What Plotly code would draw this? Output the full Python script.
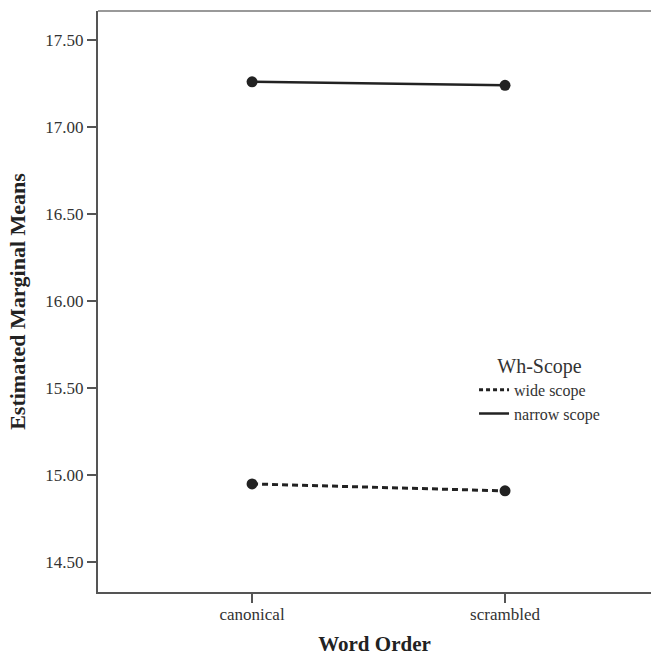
import plotly.graph_objects as go

categories = ["canonical", "scrambled"]
wide_scope = [14.95, 14.91]
narrow_scope = [17.26, 17.24]
y_ticks = [14.5, 15.0, 15.5, 16.0, 16.5, 17.0, 17.5]
y_tick_labels = ["14.50", "15.00", "15.50", "16.00", "16.50", "17.00", "17.50"]
series_names = ["wide scope", "narrow scope"]

FONT = "Liberation Serif, Times New Roman, serif"
LINE_COLOR = "#222222"

fig = go.Figure()
x_idx = list(range(len(categories)))

# data traces (no legend)
fig.add_trace(go.Scatter(x=x_idx, y=wide_scope, mode="lines+markers", showlegend=False,
                         line=dict(color=LINE_COLOR, width=3, dash="6px,4px"),
                         marker=dict(color=LINE_COLOR, size=11)))
fig.add_trace(go.Scatter(x=x_idx, y=narrow_scope, mode="lines+markers", showlegend=False,
                         line=dict(color=LINE_COLOR, width=2.5),
                         marker=dict(color=LINE_COLOR, size=11)))
# legend-only traces
fig.add_trace(go.Scatter(x=[None], y=[None], mode="lines", name=series_names[0],
                         line=dict(color=LINE_COLOR, width=3, dash="4px,3px")))
fig.add_trace(go.Scatter(x=[None], y=[None], mode="lines", name=series_names[1],
                         line=dict(color=LINE_COLOR, width=2.5)))

fig.update_layout(
    width=651, height=656,
    margin=dict(l=98, r=0, t=11, b=64),
    paper_bgcolor="white", plot_bgcolor="white",
    font=dict(family=FONT, color="#333333", size=16),
    legend=dict(
        title=dict(text="Wh-Scope", font=dict(size=20, family=FONT, color="#333333"), side="top center"),
        font=dict(size=16, family=FONT, color="#333333"),
        x=0.68, y=0.422, xanchor="left", yanchor="top",
        bgcolor="rgba(0,0,0,0)", itemwidth=30, tracegroupgap=0,
    ),
    xaxis=dict(
        range=[-0.609, 1.577],
        tickmode="array", tickvals=x_idx, ticktext=categories,
        showgrid=False, zeroline=False,
        showline=True, linecolor="#555555", linewidth=2,
        ticks="outside", ticklen=9, tickwidth=2, tickcolor="#555555",
        tickfont=dict(size=17, family=FONT, color="#333333"),
        ticklabelstandoff=-3,
        title=dict(text="<b>Word Order</b>", font=dict(size=21, family=FONT, color="#222222"), standoff=14),
        automargin=False, fixedrange=True,
    ),
    yaxis=dict(
        range=[14.329, 17.667],
        tickmode="array", tickvals=y_ticks, ticktext=y_tick_labels,
        showgrid=False, zeroline=False,
        showline=True, linecolor="#555555", linewidth=2,
        ticks="outside", ticklen=9, tickwidth=2, tickcolor="#555555",
        tickfont=dict(size=17, family=FONT, color="#333333"),
        title=dict(text="<b>Estimated Marginal Means</b>", font=dict(size=22, family=FONT, color="#222222"), standoff=14),
        automargin=False, fixedrange=True,
    ),
    shapes=[dict(type="line", xref="paper", yref="paper", x0=0, x1=1, y0=1, y1=1,
                 line=dict(color="#999999", width=2))],
)

fig.write_html("out.html", config={"displayModeBar": False},
               post_script="document.body.style.margin='0';document.body.style.overflow='hidden';")
